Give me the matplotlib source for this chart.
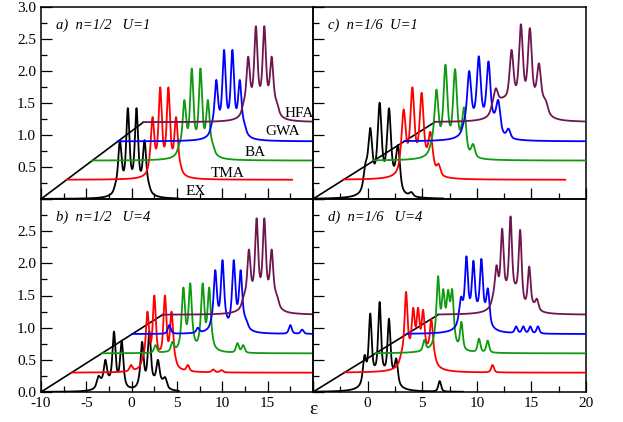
import numpy as np
import matplotlib.pyplot as plt
from matplotlib.ticker import MultipleLocator

plt.rcParams['font.family'] = ['Liberation Serif', 'DejaVu Serif']

methods = ["EX", "TMA", "BA", "GWA", "HFA"]
colors = ["black", "red", "#0f9a0f", "blue", "#6e1650"]
baselines = [0.0, 0.3, 0.6, 0.9, 1.2]

titles = ["a)  n=1/2   U=1", "b)  n=1/2   U=4", "c)  n=1/6  U=1", "d)  n=1/6   U=4"]
xmins = [-10, -10, -5, -5]
diag_end = [1.3, 3.4, 6.15, 6.45]   # x where the slanted guide line reaches 1.2
widths = [0.2, 0.19, 0.2, 0.15]  # peak half width per panel
LOR_SHARE = 0.5

# peaks: (position, top value)
peaks_a = [
    [(-1.3, 0.92), (-0.42, 1.42), (0.53, 1.42), (1.42, 0.92)],
    [(2.3, 1.28), (3.15, 1.745), (4.05, 1.745), (4.9, 1.28)],
    [(5.81, 1.547), (6.63, 2.04), (7.59, 2.04), (8.41, 1.547)],
    [(9.33, 1.86), (10.19, 2.33), (11.11, 2.33), (11.93, 1.86)],
    [(12.85, 2.225), (13.7, 2.70), (14.63, 2.70), (15.44, 2.225)],
]
peaks_b = [
    [(-3.65, 0.25), (-2.9, 0.5), (-1.95, 0.94), (-1.1, 0.80),
     (1.15, 0.78), (1.95, 0.94), (2.9, 0.5), (3.7, 0.23)],
    [(-0.07, 0.42), (1.74, 1.25), (2.5, 1.50), (3.67, 1.50), (4.4, 1.25),
     (6.2, 0.42), (9.0, 0.35), (9.9, 0.34)],
    [(2.63, 0.73), (4.5, 0.78), (5.7, 1.625), (6.46, 1.69), (7.83, 1.69),
     (8.55, 1.625), (11.67, 0.76), (12.3, 0.73)],
    [(4.15, 1.04), (7.3, 1.0), (9.22, 1.894), (10.02, 2.05), (11.26, 2.05),
     (12.02, 1.894), (17.5, 1.04), (18.8, 0.97)],
    [(12.93, 2.215), (13.78, 2.70), (14.63, 2.70), (15.44, 2.215)],
]
peaks_c = [
    [(-0.2, 0.56), (0.24, 1.11), (1.10, 1.505), (1.96, 1.417), (2.78, 0.84),
     (4.0, 0.11)],
    [(3.30, 1.40), (4.10, 1.745), (4.95, 1.66), (5.75, 1.05), (6.5, 0.55)],
    [(6.30, 1.71), (7.13, 2.10), (8.01, 2.03), (8.84, 1.43), (9.66, 0.86)],
    [(9.30, 2.0), (10.18, 2.23), (11.07, 2.15), (11.96, 1.547), (12.9, 1.10)],
    [(11.74, 1.73), (13.18, 2.33), (14.04, 2.73), (14.86, 2.67),
     (15.69, 2.12), (16.3, 1.55)],
]
peaks_d = [
    [(-0.28, 0.575), (0.24, 1.22), (1.10, 1.40), (1.96, 1.14), (2.63, 0.52),
     (6.6, 0.17)],
    [(3.52, 1.557), (4.18, 1.31), (4.62, 1.31), (5.08, 1.28), (5.84, 1.13),
     (11.44, 0.42)],
    [(5.2, 0.81), (6.45, 1.80), (6.93, 1.60), (7.37, 1.59), (7.74, 1.60),
     (8.59, 1.09), (10.2, 0.83), (11.0, 0.80)],
    [(8.55, 1.48), (9.05, 2.11), (9.69, 2.04), (10.42, 2.07), (11.02, 1.61),
     (13.6, 1.02), (14.26, 1.02), (14.9, 1.02), (15.6, 1.02)],
    [(11.8, 1.97), (12.32, 2.54), (13.09, 2.73), (13.97, 2.52), (14.8, 1.95),
     (15.5, 1.45)],
]

# band plateaus under the peaks: (from, to, level above baseline)
bands_a = [
    [(-1.9, 2.0, 0.3)],
    [(1.85, 5.45, 0.33)],
    [(5.1, 9.1, 0.33)],
    [(8.7, 12.6, 0.35)],
    [(12.2, 16.2, 0.4)],
]
bands_b = [
    [(-3.9, -0.7, 0.2), (0.7, 3.9, 0.2)],
    [(1.1, 4.9, 0.3)],
    [(5.3, 6.9, 0.3), (7.4, 9.0, 0.3)],
    [(8.7, 10.5, 0.3), (10.8, 12.8, 0.3)],
    [(12.2, 16.2, 0.4)],
]
bands_c = [
    [(-0.35, 3.0, 0.4)],
    [(2.9, 6.1, 0.4)],
    [(5.7, 9.0, 0.35)],
    [(8.7, 12.2, 0.4)],
    [(11.3, 16.5, 0.4)],
]
bands_d = [
    [(-0.5, 2.8, 0.35)],
    [(3.0, 6.2, 0.45)],
    [(6.1, 8.0, 0.5)],
    [(8.3, 11.2, 0.45)],
    [(11.4, 14.2, 0.45), (14.6, 15.7, 0.15)],
]

ends_a = [5.1, 17.7, 20, 20, 20]
ends_b = [5.2, 20, 20, 20, 20]
ends_c = [6.9, 18.1, 20, 20, 20]
ends_d = [8.75, 20, 20, 20, 20]

all_peaks = [peaks_a, peaks_b, peaks_c, peaks_d]
all_bands = [bands_a, bands_b, bands_c, bands_d]
all_ends = [ends_a, ends_b, ends_c, ends_d]

label_x = [16.9, 14.8, 12.4, 8.7, 5.9]
label_y = [1.34, 1.05, 0.73, 0.40, 0.12]
label_order = ["HFA", "GWA", "BA", "TMA", "EX"]

EDGE = 0.18
EDGE_WIDE = 0.8
WIDE_SHARE = 0.35


def band_curve(x, bands):
    y = np.zeros_like(x)
    for lo, hi, lev in bands:
        for e, s in ((EDGE, 1 - WIDE_SHARE), (EDGE_WIDE, WIDE_SHARE)):
            y += s * lev / np.pi * (np.arctan((x - lo) / e) - np.arctan((x - hi) / e))
    return y


def spectrum(x, base, peaks, bands, g):
    c = np.array([p[0] for p in peaks])
    top = np.array([p[1] for p in peaks])

    def shape(d):
        lor = g**2 / (d**2 + g**2)
        gau = np.exp(-np.log(2) * (d / g) ** 2)
        return LOR_SHARE * lor + (1 - LOR_SHARE) * gau

    m = shape(c[:, None] - c[None, :])
    rhs = top - base - band_curve(c, bands)
    amp = np.linalg.solve(m, rhs)
    y = base + band_curve(x, bands)
    for ci, ai in zip(c, amp):
        y += ai * shape(x - ci)
    return y


fig = plt.figure(figsize=(6.23, 4.22), dpi=100)
W, H = 623, 422
boxes = [
    (41, 7, 313, 199),
    (41, 199, 313, 392),
    (313, 7, 586, 199),
    (313, 199, 586, 392),
]

for p in range(4):
    x0, y0, x1, y1 = boxes[p]
    ax = fig.add_axes([x0 / W, 1 - y1 / H, (x1 - x0) / W, (y1 - y0) / H])
    ax.set_facecolor('none')
    xmin = xmins[p]
    ax.set_xlim(xmin, 20)
    ax.set_ylim(0, 3.0)

    ax.plot([xmin, diag_end[p]], [0, 1.2], color='black', lw=1.2, zorder=1)
    for k in range(5):
        start = xmin + (diag_end[p] - xmin) * k / 4
        xs = np.linspace(start, all_ends[p][k], 3000)
        ys = spectrum(xs, baselines[k], all_peaks[p][k], all_bands[p][k], widths[p])
        ax.plot(xs, ys, color=colors[k], lw=1.3, zorder=2 + k)

    ax.text(0.055, 0.905, titles[p], transform=ax.transAxes, style='italic',
            fontsize=10.5, va='center', ha='left')

    ax.xaxis.set_major_locator(MultipleLocator(5))
    ax.xaxis.set_minor_locator(MultipleLocator(2.5))
    ax.yaxis.set_major_locator(MultipleLocator(0.5))
    ax.yaxis.set_minor_locator(MultipleLocator(0.25))
    ax.tick_params(which='both', direction='in', top=False, right=False,
                   labelsize=11)
    ax.tick_params(which='major', length=8, width=0.9)
    ax.tick_params(which='minor', length=4, width=0.9)
    for s in ax.spines.values():
        s.set_linewidth(1.1)

    top_row = p in (0, 2)
    left_col = p in (0, 1)
    if top_row:
        ax.set_xticklabels([])
    else:
        xt = np.arange(xmin, 20.1, 5)
        ax.set_xticks(xt)
        ax.set_xticklabels([("%d" % v) if (left_col and v < 20) or (not left_col and v > xmin) else ""
                            for v in xt])
    if left_col:
        yt = np.arange(0, 3.01, 0.5)
        ax.set_yticks(yt)
        if top_row:
            ax.set_yticklabels(["" if v == 0 else "%.1f" % v for v in yt])
        else:
            ax.set_yticklabels(["" if v > 2.9 else "%.1f" % v for v in yt])
    else:
        ax.set_yticklabels([])

    if p == 0:
        for name, lx, ly in zip(label_order, label_x, label_y):
            ax.text(lx, ly, name, fontsize=11, va='center', ha='left')

fig.text(313 / W, 1 - 409 / H, "ε", fontsize=14, ha='center', va='center')

fig.savefig("out.png", dpi=100)
